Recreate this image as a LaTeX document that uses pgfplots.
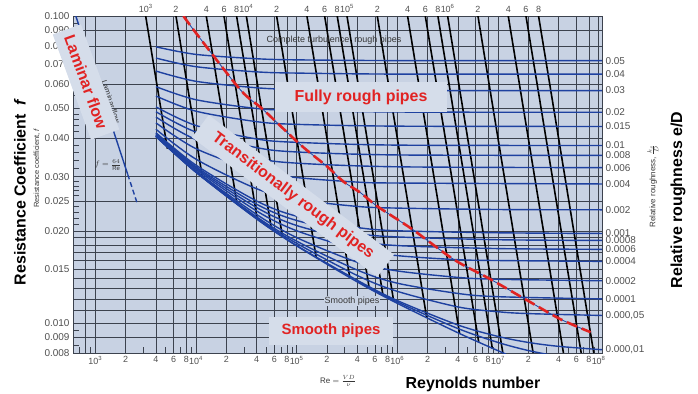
\documentclass[border=0pt]{standalone}
\usepackage{pgfplots}
\pgfplotsset{compat=1.18}
\usepackage{fontspec}
\setmainfont{Liberation Sans}
\definecolor{plotbg}{RGB}{200,210,227}
\definecolor{boxbg}{RGB}{213,221,234}
\definecolor{gridc}{RGB}{60,66,78}
\definecolor{curve}{RGB}{30,65,160}
\definecolor{redl}{RGB}{225,35,35}
\definecolor{tickc}{RGB}{80,80,80}
\definecolor{smalltxt}{RGB}{55,55,55}
\begin{document}
\begin{tikzpicture}
\useasboundingbox (0,0) rectangle (698bp,394bp);
\begin{axis}[
  at={(73bp,41bp)}, anchor=south west,
  width=529bp, height=337bp, scale only axis,
  xmode=log, ymode=log,
  xmin=600, xmax=1.08e8, ymin=0.008, ymax=0.1,
  axis background/.style={fill=plotbg},
  axis line style={gridc, line width=0.6pt},
  grid=major,
  major grid style={gridc, line width=0.5pt},
  xtick={1e3,2e3,4e3,6e3,8e3,1e4,2e4,4e4,6e4,8e4,1e5,2e5,4e5,6e5,8e5,1e6,2e6,4e6,6e6,8e6,1e7,2e7,4e7,6e7,8e7,1e8},
  xticklabels={10\textsuperscript{3},2,4,6,8,10\textsuperscript{4},2,4,6,8,10\textsuperscript{5},2,4,6,8,10\textsuperscript{6},2,4,6,8,10\textsuperscript{7},2,4,6,8,10\textsuperscript{8}},
  extra x ticks={800}, extra x tick labels={{}},
  extra x tick style={grid=major, major tick length=0pt},
  minor xtick={700,900,3e3,5e3,7e3,9e3,3e4,5e4,7e4,9e4,3e5,5e5,7e5,9e5,3e6,5e6,7e6,9e6,3e7,5e7,7e7,9e7},
  ytick={0.008,0.009,0.010,0.011,0.012,0.013,0.014,0.015,0.016,0.017,0.018,0.019,0.020,0.025,0.030,0.040,0.050,0.060,0.070,0.080,0.090,0.100},
  yticklabels={0.008,0.009,0.010,{},{},{},{},0.015,{},{},{},{},0.020,0.025,0.030,0.040,0.050,0.060,0.070,0.080,0.090,0.100},
  minor ytick={0.0085,0.0095,0.021,0.022,0.023,0.024,0.026,0.027,0.028,0.029,0.032,0.034,0.036,0.038,0.042,0.044,0.046,0.048,0.055,0.065,0.075,0.085,0.095},
  xtick pos=bottom, ytick pos=left,
  major tick length=0pt, minor tick length=6bp,
  tick align=inside,
  minor tick style={gridc, line width=0.6pt},
  xticklabel style={font=\fontsize{9}{10}\selectfont, text=tickc},
  yticklabel style={font=\fontsize{10}{11}\selectfont, text=tickc},
  blk/.style={black, line width=1.6bp},
  cv/.style={curve, line width=1.4bp, smooth},
]
% lines of constant Re*sqrt(f)
\addplot[blk] coordinates {(3162,0.1) (5200,0.03698)};
\addplot[blk] coordinates {(6325,0.1) (11604,0.02971)};
\addplot[blk] coordinates {(12649,0.1) (25616,0.02438)};
\addplot[blk] coordinates {(18974,0.1) (40536,0.02191)};
\addplot[blk] coordinates {(25298,0.1) (56048,0.02037)};
\addplot[blk] coordinates {(31623,0.1) (72000,0.01929)};
\addplot[blk] coordinates {(63246,0.1) (156040,0.01643)};
\addplot[blk] coordinates {(126491,0.1) (336160,0.01416)};
\addplot[blk] coordinates {(189737,0.1) (525360,0.01304)};
\addplot[blk] coordinates {(252982,0.1) (720480,0.01233)};
\addplot[blk] coordinates {(316228,0.1) (920000,0.01181)};
\addplot[blk] coordinates {(632456,0.1) (1.96e6,0.01041)};
\addplot[blk] coordinates {(1.2649e6,0.1) (4.16e6,0.009238)};
\addplot[blk] coordinates {(1.8974e6,0.1) (6.45e6,0.008644)};
\addplot[blk] coordinates {(2.5298e6,0.1) (8.80e6,0.008256)};
\addplot[blk] coordinates {(3.1623e6,0.1) (1.118e7,0.008)};
\addplot[blk] coordinates {(6.3246e6,0.1) (2.236e7,0.008)};
\addplot[blk] coordinates {(1.2649e7,0.1) (4.472e7,0.008)};
\addplot[blk] coordinates {(1.8974e7,0.1) (6.708e7,0.008)};
\addplot[blk] coordinates {(2.5298e7,0.1) (8.944e7,0.008)};
% relative roughness curves
\addplot[cv] coordinates {(4000,0.0794)(1e4,0.0750)(4e4,0.0726)(1e5,0.0720)(1e6,0.0716)(1.08e8,0.07155)};
\addplot[cv] coordinates {(4000,0.0730)(1e4,0.0684)(4e4,0.0658)(1e5,0.0652)(1e6,0.0647)(1.08e8,0.0647)};
\addplot[cv] coordinates {(4000,0.0662)(1e4,0.0613)(4e4,0.0584)(1e5,0.0577)(1e6,0.0572)(1.08e8,0.0572)};
\addplot[cv] coordinates {(4000,0.0589)(1e4,0.0534)(4e4,0.0500)(1e5,0.0493)(1e6,0.0487)(1.08e8,0.0486)};
\addplot[cv] coordinates {(4000,0.0549)(1e4,0.0490)(4e4,0.0453)(1e5,0.0444)(1e6,0.0438)(1.08e8,0.0437)};
\addplot[cv] coordinates {(4000,0.0506)(1e4,0.0440)(4e4,0.0398)(1e5,0.0388)(1e6,0.0380)(1.08e8,0.0379)};
\addplot[cv] coordinates {(4000,0.0488)(1e4,0.0419)(4e4,0.0373)(1e5,0.0361)(1e6,0.0353)(1.08e8,0.0352)};
\addplot[cv] coordinates {(4000,0.0469)(1e4,0.0396)(4e4,0.0345)(1e5,0.0332)(1e6,0.0323)(1.08e8,0.0321)};
\addplot[cv] coordinates {(4000,0.0449)(1e4,0.0370)(4e4,0.0313)(1e5,0.0298)(4e5,0.0288)(1e6,0.0286)(1.08e8,0.0284)};
\addplot[cv] coordinates {(4000,0.0428)(1e4,0.0342)(4e4,0.0274)(1e5,0.0253)(4e5,0.0240)(1e6,0.0237)(1e7,0.02345)(1.08e8,0.0234)};
\addplot[cv] coordinates {(4000,0.0417)(1e4,0.0327)(4e4,0.0250)(1e5,0.0223)(4e5,0.0205)(1e6,0.0200)(1e7,0.0197)(1.08e8,0.0196)};
\addplot[cv] coordinates {(4000,0.0415)(1e4,0.0323)(4e4,0.0244)(1e5,0.0216)(4e5,0.0196)(1e6,0.0191)(1e7,0.0187)(1.08e8,0.0186)};
\addplot[cv] coordinates {(4000,0.0412)(1e4,0.0320)(4e4,0.0238)(1e5,0.0208)(4e5,0.0186)(1e6,0.0179)(1e7,0.0175)(1.08e8,0.0174)};
\addplot[cv] coordinates {(4000,0.0410)(1e4,0.0317)(4e4,0.0232)(1e5,0.0200)(4e5,0.0174)(1e6,0.0166)(4e6,0.0161)(1e7,0.0160)(1.08e8,0.0159)};
\addplot[cv] coordinates {(4000,0.0408)(1e4,0.0313)(4e4,0.0226)(1e5,0.0190)(4e5,0.0158)(1e6,0.0148)(4e6,0.0141)(1e7,0.0139)(1.08e8,0.01375)};
\addplot[cv] coordinates {(4000,0.0407)(1e4,0.0312)(4e4,0.0222)(1e5,0.0185)(4e5,0.0149)(1e6,0.0135)(4e6,0.0125)(1e7,0.0122)(1.08e8,0.0120)};
\addplot[cv] coordinates {(4000,0.0406)(1e4,0.0311)(4e4,0.0220)(1e5,0.0182)(4e5,0.0143)(1e6,0.0127)(4e6,0.0113)(1e7,0.0109)(2e7,0.01075)(1.08e8,0.0106)};
\addplot[cv] coordinates {(4000,0.0406)(1e4,0.0310)(4e4,0.0219)(1e5,0.0179)(4e5,0.0138)(1e6,0.01185)(4e6,0.00987)(1e7,0.00906)(2e7,0.00866)(4e7,0.00841)(1.08e8,0.0082)};
\addplot[cv] coordinates {(4e5,0.0137)(1e6,0.01173)(4e6,0.00961)(1e7,0.00866)(2e7,0.00815)(4e7,0.0078)};
\addplot[cv] coordinates {(4000,0.0405)(1e4,0.0310)(4e4,0.02185)(1e5,0.01786)(4e5,0.01363)(1e6,0.01161)(4e6,0.00931)(1e7,0.00814)(1.2e7,0.00794)};
% laminar
\addplot[curve, line width=1.4bp] coordinates {(640,0.1)(1000,0.064)(1500,0.04267)(2100,0.03048)};
\addplot[curve, line width=1.4bp, dash pattern=on 5bp off 3bp] coordinates {(2100,0.03048)(2600,0.02462)};
% boundary of complete turbulence
\addplot[curve, line width=0.8bp, smooth] coordinates {(7499,0.1)(10330,0.0868)(27620,0.0575)(46770,0.0495)(109100,0.0381)(202400,0.0323)(291900,0.0289)(430600,0.0266)(635300,0.0240)(1.416e6,0.0202)(3.622e6,0.01614)(8.44e6,0.0139)(2.108e7,0.0117)(4.19e7,0.0103)(8.32e7,0.00935)};
\addplot[redl, line width=2.6bp, smooth, dash pattern=on 11bp off 5bp] coordinates {(7499,0.1)(10330,0.0868)(27620,0.0575)(46770,0.0495)(109100,0.0381)(202400,0.0323)(291900,0.0289)(430600,0.0266)(635300,0.0240)(1.416e6,0.0202)(3.622e6,0.01614)(8.44e6,0.0139)(2.108e7,0.0117)(4.19e7,0.0103)(8.32e7,0.00935)};
\end{axis}
\begin{axis}[
  at={(73bp,41bp)}, anchor=south west,
  width=529bp, height=337bp, scale only axis,
  xmode=log, ymode=log,
  xmin=189.74, xmax=3.4153e7, ymin=0.008, ymax=0.1,
  axis x line*=top, axis y line*=right,
  axis line style={draw=none},
  xtick={1e3,2e3,4e3,6e3,8e3,1e4,2e4,4e4,6e4,8e4,1e5,2e5,4e5,6e5,8e5,1e6,2e6,4e6,6e6,8e6},
  xticklabels={10\textsuperscript{3},2,4,6,8,10\textsuperscript{4},2,4,6,8,10\textsuperscript{5},2,4,6,8,10\textsuperscript{6},2,4,6,8},
  ytick={0.00822,0.0106,0.0120,0.01375,0.0159,0.0174,0.0186,0.0196,0.0234,0.0284,0.0321,0.0352,0.0379,0.0437,0.0486,0.0572,0.0647,0.07155},
  yticklabels={{0.000,01},{0.000,05},0.0001,0.0002,0.0004,0.0006,0.0008,0.001,0.002,0.004,0.006,0.008,0.01,0.015,0.02,0.03,0.04,0.05},
  major tick length=0pt, minor tick num=0,
  xticklabel style={font=\fontsize{9}{10}\selectfont, text=tickc},
  yticklabel style={font=\fontsize{10}{10}\selectfont, text=tickc},
]
\end{axis}
\begin{scope}[x=1bp, y=-1bp, yshift=394bp]
  % outer titles
  \node[rotate=90, font=\fontsize{16}{19}\selectfont\bfseries] at (20,192) {Resistance Coefficient\ \ \textit{f}};
  \node[rotate=90, font=\fontsize{7.5}{8}\selectfont, text=smalltxt] at (37,168) {Resistance coefficient, \textit{f}};
  \node[font=\fontsize{8}{9}\selectfont, text=smalltxt] at (338,381) {Re $=\frac{VD}{\nu}$};
  \node[font=\fontsize{16}{19}\selectfont\bfseries] at (473,384) {Reynolds number};
  \node[rotate=90, font=\fontsize{16}{19}\selectfont\bfseries] at (678,200) {Relative roughness e/D};
  \node[rotate=90, font=\fontsize{8}{9}\selectfont, text=smalltxt] at (653,186) {Relative roughness, $\frac{k_s}{D}$};
  % small chart texts
  \node[font=\fontsize{9}{10}\selectfont, text=smalltxt] at (334,40) {Complete turbulence, rough pipes};
  \node[rotate=-72, font=\fontsize{8}{9}\selectfont, text=smalltxt] at (111,102) {Laminar flow};
  \node[font=\fontsize{8}{9}\selectfont, text=smalltxt] at (108,165) {$f=\frac{64}{\mathrm{Re}}$};
  \node[font=\fontsize{9}{10}\selectfont, text=smalltxt, fill=plotbg, inner sep=1bp] at (352,301) {Smooth pipes};
  % red region labels
  \node[rotate=-70, fill=boxbg, text=redl, font=\fontsize{16}{19}\selectfont\bfseries, minimum width=112bp, minimum height=30bp] at (86,82) {Laminar flow};
  \node[fill=boxbg, text=redl, font=\fontsize{16}{19}\selectfont\bfseries, minimum width=172bp, minimum height=30bp] at (361,97) {Fully rough pipes};
  \node[rotate=-37, fill=boxbg, text=redl, font=\fontsize{16}{19}\selectfont\bfseries, minimum width=232bp, minimum height=28bp] at (293,196) {Transitionally rough pipes};
  \node[fill=boxbg, text=redl, font=\fontsize{15}{18}\selectfont\bfseries, minimum width=123bp, minimum height=28bp] at (331,331) {Smooth pipes};
\end{scope}
\end{tikzpicture}
\end{document}
